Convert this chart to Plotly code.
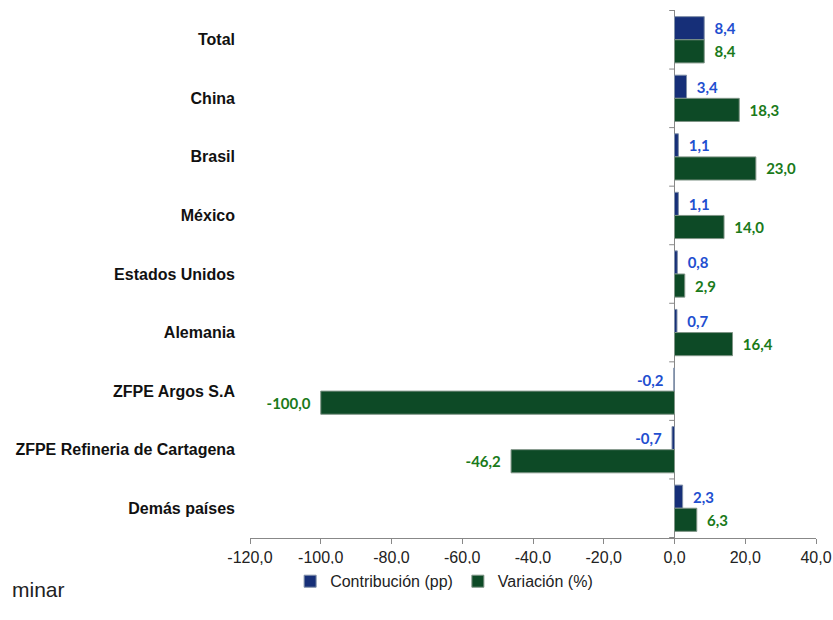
import plotly.graph_objects as go

categories = ["Total", "China", "Brasil", "México", "Estados Unidos", "Alemania",
              "ZFPE Argos S.A", "ZFPE Refineria de Cartagena", "Demás países"]
contribucion = [8.4, 3.4, 1.1, 1.1, 0.8, 0.7, -0.2, -0.7, 2.3]
variacion = [8.4, 18.3, 23.0, 14.0, 2.9, 16.4, -100.0, -46.2, 6.3]
tick_vals = [-120, -100, -80, -60, -40, -20, 0, 20, 40]
tick_text = ["-120,0", "-100,0", "-80,0", "-60,0", "-40,0", "-20,0", "0,0", "20,0", "40,0"]

NB = "\u00a0\u00a0"


def fmt(v):
    s = f"{v:.1f}".replace(".", ",")
    return NB + s if v >= 0 else s + NB


label_font = "Lato, Open Sans, sans-serif"
narrow = "Liberation Sans Narrow, Liberation Sans, Arial"

fig = go.Figure()
fig.add_trace(go.Bar(
    y=categories, x=contribucion, orientation="h", name="Contribución (pp)",
    marker=dict(color="#162f78", line=dict(color="#8090a8", width=1)),
    text=[fmt(v) for v in contribucion], textposition="outside",
    textfont=dict(family=label_font, size=15, color="#1f4fd0", weight="bold"),
    cliponaxis=False, hoverinfo="skip",
))
fig.add_trace(go.Bar(
    y=categories, x=variacion, orientation="h", name="Variación (%)",
    marker=dict(color="#0d4a26", line=dict(color="#7f9486", width=1)),
    text=[fmt(v) for v in variacion], textposition="outside",
    textfont=dict(family=label_font, size=15, color="#1a7a1a", weight="bold"),
    cliponaxis=False, hoverinfo="skip",
))

# small tick marks on the category axis at x = 0 (band boundaries)
for i in range(len(categories) + 1):
    fig.add_shape(type="line", xref="x", yref="y",
                  x0=-1.5, x1=0, y0=i - 0.5, y1=i - 0.5,
                  line=dict(color="#888888", width=1))

fig.add_annotation(text="minar", xref="paper", yref="paper", x=-0.424, y=-0.097,
                   xanchor="left", yanchor="middle", showarrow=False,
                   font=dict(family=narrow, size=21, color="#222222"))

fig.update_layout(
    width=833, height=620,
    margin=dict(l=250, r=17, t=10, b=82),
    barmode="group", bargap=0.21, bargroupgap=0,
    plot_bgcolor="white", paper_bgcolor="white",
    showlegend=True,
    legend=dict(orientation="h", x=0.343, y=-0.082, xanchor="center", yanchor="middle",
                font=dict(family=narrow, size=16, color="#222222"),
                itemwidth=30, traceorder="normal"),
    font=dict(family="Liberation Sans, Arial", color="#000000"),
    xaxis=dict(range=[-120, 40], tickvals=tick_vals, ticktext=tick_text,
               automargin=False,
               showgrid=False, zeroline=True, zerolinecolor="#888888", zerolinewidth=1,
               showline=True, linecolor="#888888", linewidth=1,
               ticks="outside", ticklen=5, tickcolor="#888888",
               tickfont=dict(family=narrow, size=16, color="#222222")),
    yaxis=dict(autorange="reversed", showgrid=False, showline=False, ticks="",
               automargin=False, ticklabelstandoff=14,
               tickfont=dict(family="Liberation Sans, Arial", size=16, color="#111111", weight="bold")),
)

fig.write_html("out.html", config={"displayModeBar": False},
               post_script="document.body.style.margin='0';document.body.style.overflow='hidden';")
